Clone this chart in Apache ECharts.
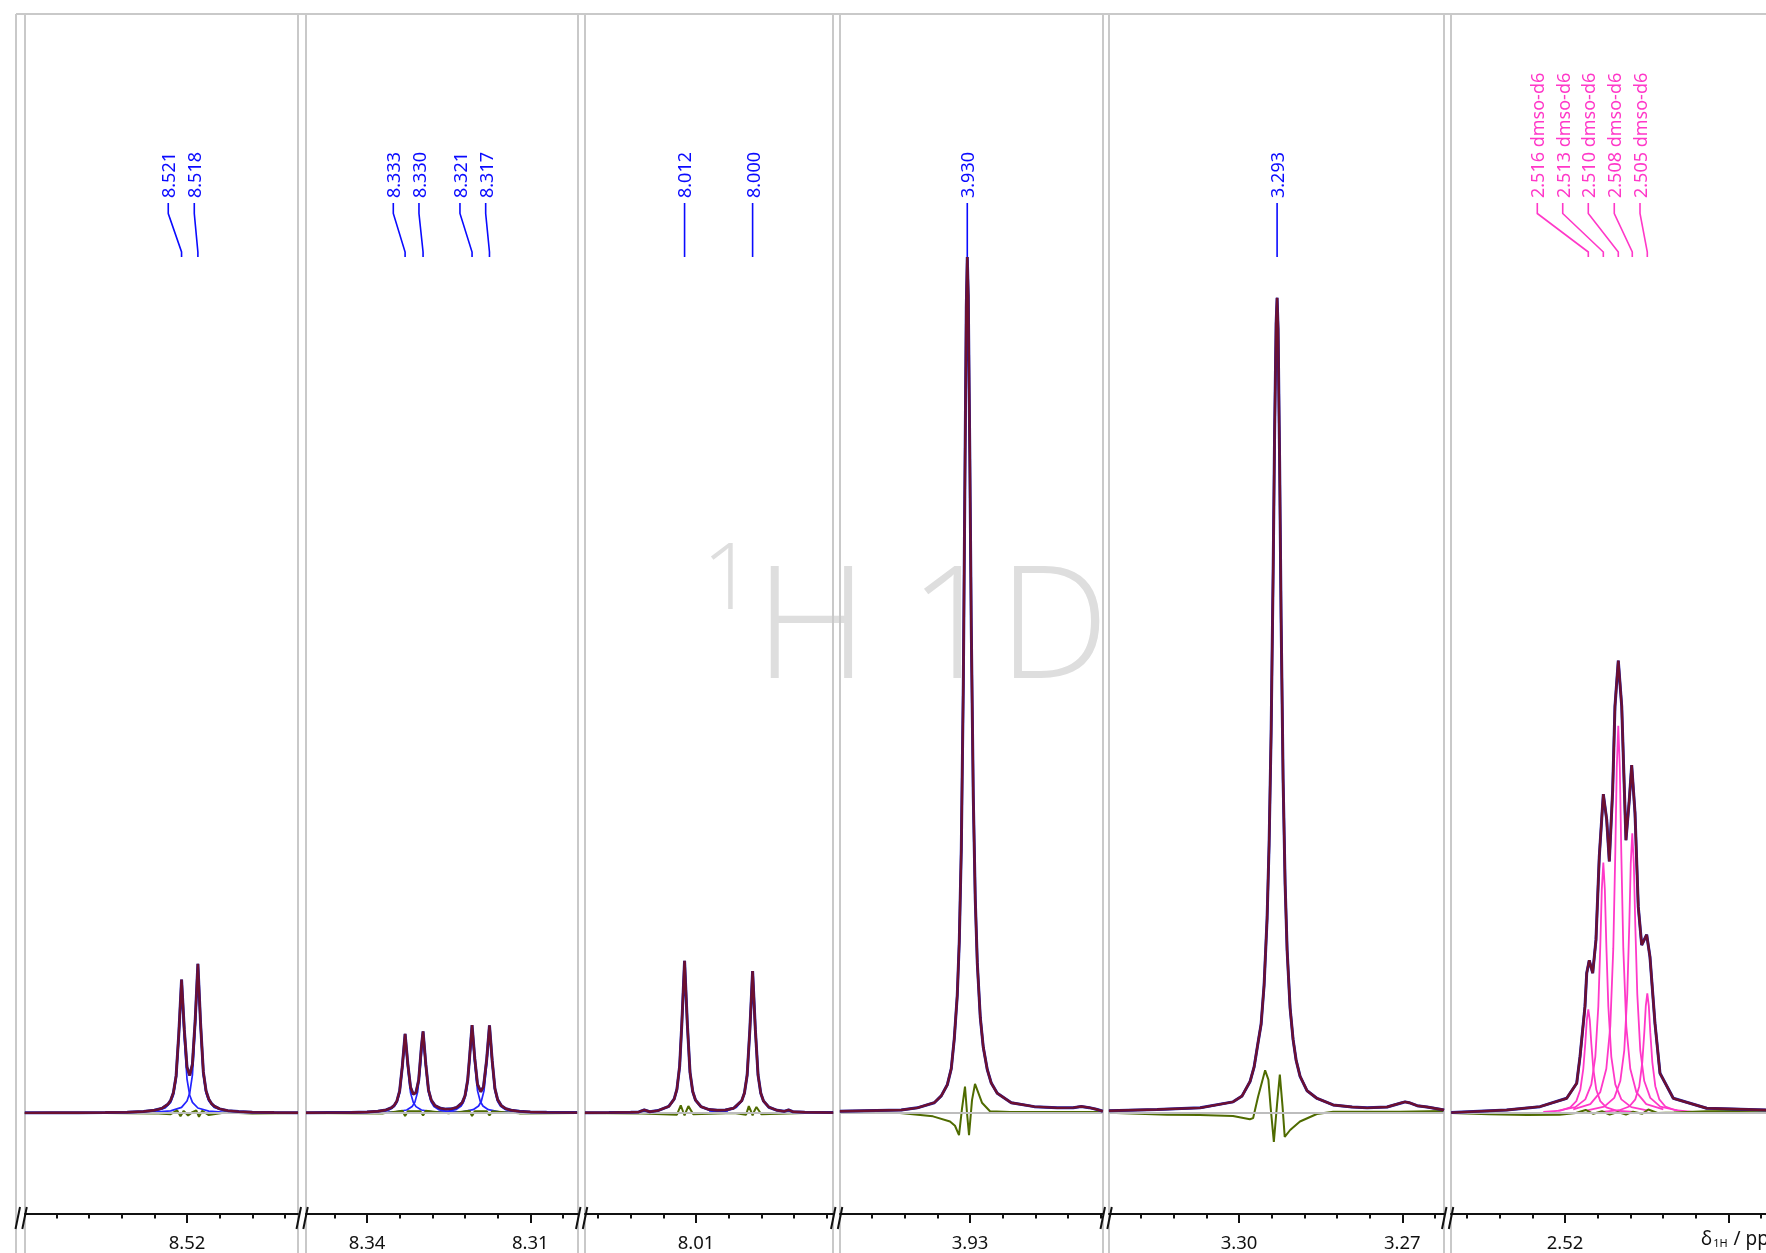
<!DOCTYPE html>
<html>
<head>
<meta charset="utf-8">
<title>1H 1D</title>
<script src="https://cdn.jsdelivr.net/npm/echarts@6.0.0/dist/echarts.min.js"></script>
<style>
html,body{margin:0;padding:0;background:#ffffff;overflow:hidden;}
#chart{width:1766px;height:1253px;}
</style>
</head>
<body>
<div id="chart"></div>
<script>
// ================= DATA (ppm, intensity) =================
// Panel 1 : 8.52 ppm doublet
const P1_FIT = [[8.5498,0.01],[8.545,0.02],[8.540,0.03],[8.535,0.05],[8.531,0.09],[8.528,0.17],[8.526,0.31],[8.5245,0.57],[8.5235,1.02],[8.523,1.48],[8.5225,2.37],[8.522,4.34],[8.5215,9.33],[8.521,15.65],[8.5205,9.77],[8.520,5.37],[8.5195,4.40],[8.519,5.72],[8.5185,10.79],[8.518,17.48],[8.5175,10.40],[8.517,4.81],[8.5165,2.59],[8.516,1.61],[8.5155,1.10],[8.515,0.80],[8.514,0.48],[8.5125,0.27],[8.5105,0.16],[8.508,0.09],[8.504,0.05],[8.4996,0.03]];
const P1_COMP_A = [[8.529,0.08],[8.526,0.21],[8.524,0.58],[8.523,1.24],[8.5225,2.07],[8.522,3.98],[8.5215,8.85],[8.521,15.0],[8.5205,8.85],[8.520,3.98],[8.5195,2.07],[8.519,1.24],[8.518,0.58],[8.516,0.21],[8.513,0.08]];
const P1_COMP_B = [[8.526,0.10],[8.523,0.24],[8.521,0.65],[8.520,1.40],[8.5195,2.33],[8.519,4.48],[8.5185,9.97],[8.518,16.9],[8.5175,9.97],[8.517,4.48],[8.5165,2.33],[8.516,1.40],[8.515,0.65],[8.513,0.24],[8.510,0.10]];
const P1_RES = [[8.5498,0],[8.535,0],[8.526,-0.05],[8.523,-0.15],[8.5218,0.3],[8.5212,-0.4],[8.5206,0.25],[8.5198,-0.3],[8.519,0.1],[8.5183,0.3],[8.5178,-0.45],[8.5172,0.25],[8.516,-0.25],[8.513,0.05],[8.508,-0.05],[8.4996,0]];

// Panel 2 : 8.33 / 8.32 ppm multiplet
const P2_FIT = [[8.3512,0.02],[8.347,0.04],[8.343,0.06],[8.340,0.11],[8.338,0.20],[8.3365,0.35],[8.3355,0.61],[8.335,0.88],[8.3345,1.41],[8.334,2.58],[8.3335,5.54],[8.333,9.28],[8.3325,5.73],[8.332,3.00],[8.3315,2.20],[8.331,2.41],[8.3305,3.85],[8.330,7.77],[8.3297,9.56],[8.3292,5.72],[8.3287,2.69],[8.3282,1.50],[8.3275,0.85],[8.3265,0.54],[8.3255,0.45],[8.3245,0.48],[8.3235,0.65],[8.3225,1.22],[8.322,2.00],[8.3215,3.85],[8.3212,6.16],[8.3207,10.30],[8.3202,6.36],[8.3197,3.36],[8.3191,2.49],[8.3186,3.06],[8.318,6.35],[8.3175,10.28],[8.317,6.13],[8.3165,2.86],[8.316,1.56],[8.3153,0.84],[8.3145,0.50],[8.3135,0.31],[8.312,0.19],[8.310,0.12],[8.307,0.07],[8.3014,0.04]];
const P2_COMP_C = [[8.3410,0.05],[8.3380,0.13],[8.3360,0.35],[8.3350,0.74],[8.3345,1.24],[8.3340,2.37],[8.3335,5.28],[8.3330,8.95],[8.3325,5.28],[8.3320,2.37],[8.3315,1.24],[8.3310,0.74],[8.3300,0.35],[8.3280,0.13],[8.3250,0.05]];
const P2_COMP_D = [[8.3377,0.05],[8.3347,0.13],[8.3327,0.35],[8.3317,0.76],[8.3312,1.27],[8.3307,2.44],[8.3302,5.43],[8.3297,9.2],[8.3292,5.43],[8.3287,2.44],[8.3282,1.27],[8.3277,0.76],[8.3267,0.35],[8.3247,0.13],[8.3217,0.05]];
const P2_COMP_E = [[8.3287,0.06],[8.3257,0.14],[8.3237,0.38],[8.3227,0.82],[8.3222,1.37],[8.3217,2.62],[8.3212,5.84],[8.3207,9.9],[8.3202,5.84],[8.3197,2.62],[8.3192,1.37],[8.3187,0.82],[8.3177,0.38],[8.3157,0.14],[8.3127,0.06]];
const P2_COMP_F = [[8.3255,0.06],[8.3225,0.14],[8.3205,0.38],[8.3195,0.82],[8.3190,1.37],[8.3185,2.62],[8.3180,5.84],[8.3175,9.9],[8.3170,5.84],[8.3165,2.62],[8.3160,1.37],[8.3155,0.82],[8.3145,0.38],[8.3125,0.14],[8.3095,0.06]];
const P2_RES = [[8.3512,0],[8.337,-0.05],[8.3335,0.25],[8.333,-0.35],[8.3325,0.2],[8.3302,0.2],[8.3297,-0.3],[8.3292,0.25],[8.325,-0.05],[8.3212,0.25],[8.3207,-0.35],[8.3202,0.2],[8.318,0.2],[8.3175,-0.3],[8.317,0.2],[8.312,-0.05],[8.3014,0]];

// Panel 3 : 8.01 / 8.00 ppm doublet
const P3_FIT = [[8.0304,0.03],[8.026,0.04],[8.022,0.08],[8.0205,0.12],[8.0195,0.35],[8.0185,0.14],[8.017,0.28],[8.015,0.76],[8.014,1.64],[8.0135,2.79],[8.013,5.51],[8.0126,10.53],[8.0121,17.84],[8.0116,10.54],[8.0111,4.76],[8.0106,2.51],[8.0101,1.52],[8.0091,0.75],[8.0076,0.40],[8.0061,0.32],[8.0046,0.35],[8.0031,0.55],[8.0016,1.43],[8.0011,2.34],[8.0006,4.45],[8.0001,9.83],[7.9996,16.64],[7.9991,9.83],[7.9986,4.44],[7.9981,2.32],[7.9976,1.40],[7.9966,0.67],[7.9951,0.31],[7.9938,0.19],[7.993,0.35],[7.9922,0.14],[7.990,0.08],[7.9848,0.04]];
const P3_COMP_G = [[8.0201,0.10],[8.0171,0.25],[8.0151,0.69],[8.0141,1.47],[8.0136,2.46],[8.0131,4.72],[8.0126,10.5],[8.0121,17.8],[8.0116,10.5],[8.0111,4.72],[8.0106,2.46],[8.0101,1.47],[8.0091,0.69],[8.0071,0.25],[8.0041,0.10]];
const P3_COMP_I = [[8.0076,0.09],[8.0046,0.24],[8.0026,0.64],[8.0016,1.37],[8.0011,2.29],[8.0006,4.40],[8.0001,9.79],[7.9996,16.6],[7.9991,9.79],[7.9986,4.40],[7.9981,2.29],[7.9976,1.37],[7.9966,0.64],[7.9946,0.24],[7.9916,0.09]];
const P3_RES = [[8.0304,0],[8.020,-0.05],[8.0135,-0.2],[8.0128,0.9],[8.0124,0.2],[8.0121,-0.3],[8.0118,0.2],[8.0114,0.8],[8.0105,-0.15],[8.003,0],[8.0008,-0.2],[8.0003,0.8],[7.9999,0.2],[7.9996,-0.3],[7.9993,0.2],[7.9989,0.7],[7.998,-0.15],[7.990,0],[7.9848,0]];

// Panel 4 : 3.930 ppm singlet
const P4_FIT = [[3.9539,0.2],[3.94262,0.35],[3.93969,0.6],[3.93656,1.2],[3.93528,2.0],[3.93417,3.3],[3.93344,5.2],[3.93289,8.7],[3.93234,13.8],[3.93197,20.1],[3.9316,30.9],[3.93123,50.2],[3.93096,72.2],[3.93068,94.5],[3.9305,100.4],[3.93032,95.9],[3.93004,77.5],[3.92977,57.2],[3.9294,37.2],[3.92903,25.0],[3.92866,17.6],[3.92811,11.2],[3.92756,7.7],[3.92683,5.1],[3.92609,3.5],[3.92499,2.3],[3.92242,1.2],[3.91819,0.74],[3.91397,0.6],[3.91103,0.62],[3.90956,0.75],[3.90809,0.62],[3.90662,0.4],[3.9056,0.2]];
const P4_RES = [[3.9539,0.1],[3.94286,0],[3.9368,-0.4],[3.93367,-1.0],[3.93276,-1.5],[3.93202,-2.6],[3.93147,0.5],[3.93092,3.1],[3.93055,0],[3.93018,-2.6],[3.92963,1.5],[3.92908,3.4],[3.9278,1.2],[3.92633,0.2],[3.92265,0.1],[3.9153,0.1],[3.9056,0.1]];

// Panel 5 : 3.293 ppm singlet
const P5_FIT = [[3.3239,0.25],[3.31504,0.4],[3.30714,0.6],[3.30108,1.3],[3.29943,2.0],[3.29796,3.7],[3.29722,5.4],[3.29649,8.3],[3.29594,10.4],[3.29539,15.0],[3.29484,22.8],[3.29447,31.5],[3.2941,44.5],[3.29373,63.3],[3.29346,79.7],[3.29318,92.6],[3.2930,95.6],[3.29282,92.0],[3.29254,76.5],[3.29227,58.3],[3.2919,39.2],[3.29153,26.9],[3.29116,19.1],[3.29061,12.3],[3.29006,8.6],[3.28951,6.2],[3.28878,4.3],[3.28749,2.6],[3.28565,1.7],[3.28271,0.94],[3.27922,0.7],[3.27647,0.6],[3.27279,0.7],[3.27004,1.2],[3.26949,1.3],[3.26875,1.2],[3.26728,0.85],[3.26545,0.7],[3.26232,0.35]];
const P5_RES = [[3.3239,0.03],[3.3132,-0.2],[3.3072,-0.23],[3.3011,-0.35],[3.2980,-0.74],[3.2974,-0.6],[3.2965,1.9],[3.2952,5.0],[3.2946,3.9],[3.2942,0.74],[3.2936,-3.4],[3.2930,1.1],[3.2925,4.5],[3.2920,0.74],[3.2916,-2.8],[3.2906,-2.0],[3.2888,-1.0],[3.2857,-0.12],[3.2827,0.15],[3.2704,0.15],[3.2625,0.23]];

// Panel 6 : dmso-d6 quintet
const P6_FIT = [[2.5409,0.04],[2.53071,0.35],[2.52459,0.74],[2.51969,1.72],[2.51785,3.48],[2.51724,6.6],[2.51633,12.5],[2.51601,16.4],[2.51554,17.9],[2.51491,16.4],[2.51431,20.3],[2.5137,30.1],[2.51296,37.4],[2.51234,34.4],[2.51186,29.5],[2.51124,37.9],[2.51082,47.7],[2.51021,53.05],[2.50958,47.7],[2.5088,32.0],[2.50819,36.7],[2.50775,40.8],[2.50714,35.2],[2.50654,24.2],[2.50591,19.7],[2.50499,20.9],[2.50439,18.3],[2.50347,10.5],[2.50255,4.66],[2.50011,1.72],[2.49397,0.55],[2.48308,0.35],[2.4768,0.3]];
const P6_DMSO_1 = [[2.52399,0.11],[2.52086,0.28],[2.51903,0.66],[2.51792,1.39],[2.51719,2.72],[2.51664,5.17],[2.51627,8.18],[2.516,10.85],[2.51572,12.16],[2.51544,10.85],[2.51517,8.18],[2.5148,5.17],[2.51425,2.72],[2.51352,1.39],[2.51241,0.66],[2.51058,0.28],[2.50745,0.11]];
const P6_DMSO_2 = [[2.52123,0.26],[2.5181,0.68],[2.51627,1.59],[2.51516,3.35],[2.51443,6.58],[2.51388,12.48],[2.51351,19.76],[2.51324,26.19],[2.51296,29.36],[2.51268,26.19],[2.51241,19.76],[2.51204,12.48],[2.51149,6.58],[2.51076,3.35],[2.50965,1.59],[2.50782,0.68],[2.50469,0.26]];
const P6_DMSO_3 = [[2.51848,0.41],[2.51535,1.04],[2.51352,2.45],[2.51241,5.18],[2.51168,10.17],[2.51113,19.3],[2.51076,30.55],[2.51049,40.5],[2.51021,45.4],[2.50993,40.5],[2.50966,30.55],[2.50929,19.3],[2.50874,10.17],[2.50801,5.18],[2.5069,2.45],[2.50507,1.04],[2.50194,0.41]];
const P6_DMSO_4 = [[2.51591,0.3],[2.51278,0.75],[2.51095,1.77],[2.50984,3.74],[2.50911,7.35],[2.50856,13.94],[2.50819,22.07],[2.50792,29.26],[2.50764,32.8],[2.50736,29.26],[2.50709,22.07],[2.50672,13.94],[2.50617,7.35],[2.50544,3.74],[2.50433,1.77],[2.5025,0.75],[2.49937,0.3]];
const P6_DMSO_5 = [[2.51315,0.13],[2.51002,0.32],[2.50819,0.76],[2.50708,1.6],[2.50635,3.14],[2.5058,5.97],[2.50543,9.45],[2.50516,12.52],[2.50488,14.04],[2.5046,12.52],[2.50433,9.45],[2.50396,5.97],[2.50341,3.14],[2.50268,1.6],[2.50157,0.76],[2.49974,0.32],[2.49661,0.13]];
const P6_RES = [[2.5409,0],[2.534,-0.15],[2.527,-0.25],[2.521,-0.2],[2.518,0],[2.5162,0.35],[2.5148,-0.1],[2.5132,0.2],[2.5118,-0.2],[2.5103,0.1],[2.5088,-0.2],[2.5075,0.15],[2.5058,-0.1],[2.5047,0.4],[2.503,0],[2.500,0.05],[2.494,0.2],[2.4768,0.3]];

// Peak annotations
const PEAK_LABELS = ['8.521','8.518','8.333','8.330','8.321','8.317','8.012','8.000','3.930','3.293'];
const PEAK_PPM    = [8.5210, 8.5180, 8.3330, 8.3297, 8.3207, 8.3175, 8.0121, 7.9996, 3.9305, 3.2930];
const PEAK_PANEL  = [0, 0, 1, 1, 1, 1, 2, 2, 3, 4];
const DMSO_LABELS = ['2.516 dmso-d6','2.513 dmso-d6','2.510 dmso-d6','2.508 dmso-d6','2.505 dmso-d6'];
const DMSO_PPM    = [2.51572, 2.51296, 2.51021, 2.50764, 2.50488];

// Axis ticks
const MAJOR_TICKS  = [[8.52],[8.34,8.31],[8.01],[3.93],[3.30,3.27],[2.52,2.49]];
const MAJOR_LABELS = [[8.52],[8.34,8.31],[8.01],[3.93],[3.30,3.27],[2.52]];
const MINOR_STEP = 0.006;

// ================= LAYOUT / STYLE =================
const GRID_TOP = 14, GRID_H = 1249, AXIS_Y = 1214;
const GRID_X = [[25,273],[306,272],[585,248],[840,263],[1109,335],[1451,349]];
const X_RANGES = [[8.499608,8.549762],[8.301237,8.351206],[7.984831,8.030392],[3.905566,3.953883],[3.262339,3.323883],[2.476828,2.540943]];
const Y_RANGE = [-17.6, 128.9];
const LABEL_DX = [-13.3,-3.6,-11.8,-4.1,-12.1,-3.8,0,0,0,0];
const DMSO_DX  = [-51,-40.6,-30,-18,-7.3];

const C_FRAME = '#c9c9c9', C_AXIS = '#111111';
const C_FIT = '#6d1030', C_SPEC = '#2020a8', C_COMP = '#2323ff', C_DMSO = '#ff38c8', C_RES = '#4f6b00', C_BASE = '#bdbdbd';
const C_LABEL = '#0a0aff';
const FONT = 'Noto Sans';

const PANELS = [
  {fit:P1_FIT, comps:[P1_COMP_A,P1_COMP_B], compColor:C_COMP, res:P1_RES},
  {fit:P2_FIT, comps:[P2_COMP_C,P2_COMP_D,P2_COMP_E,P2_COMP_F], compColor:C_COMP, res:P2_RES},
  {fit:P3_FIT, comps:[P3_COMP_G,P3_COMP_I], compColor:C_COMP, res:P3_RES},
  {fit:P4_FIT, comps:[P4_FIT], compColor:C_COMP, res:P4_RES},
  {fit:P5_FIT, comps:[P5_FIT], compColor:C_COMP, res:P5_RES},
  {fit:P6_FIT, comps:[P6_DMSO_1,P6_DMSO_2,P6_DMSO_3,P6_DMSO_4,P6_DMSO_5], compColor:C_DMSO, res:P6_RES}
];

function minorTicks(range){
  const out=[];
  const k0=Math.ceil(range[0]/MINOR_STEP-1e-9), k1=Math.floor(range[1]/MINOR_STEP+1e-9);
  for(let k=k0;k<=k1;k++) out.push(Math.round(k*MINOR_STEP*1000)/1000);
  return out;
}

const grids=[], xAxes=[], yAxes=[], series=[];
PANELS.forEach((p,i)=>{
  grids.push({left:GRID_X[i][0], width:GRID_X[i][1], top:GRID_TOP, height:GRID_H,
    show:true, borderColor:C_FRAME, borderWidth:2, backgroundColor:'transparent',
    containLabel:false, outerBoundsMode:'none'});
  const off = AXIS_Y - (GRID_TOP + GRID_H);
  xAxes.push({type:'value', gridIndex:i, min:X_RANGES[i][0], max:X_RANGES[i][1], inverse:true,
    position:'bottom', offset:off, scale:true,
    axisLine:{show:true, onZero:false, lineStyle:{color:C_AXIS, width:2}},
    axisTick:{show:true, inside:false, length:4.5, customValues:minorTicks(X_RANGES[i]), lineStyle:{color:C_AXIS, width:2}},
    axisLabel:{show:false}, splitLine:{show:false}, minorTick:{show:false}});
  xAxes.push({type:'value', gridIndex:i, min:X_RANGES[i][0], max:X_RANGES[i][1], inverse:true,
    position:'bottom', offset:off, scale:true,
    axisLine:{show:false, onZero:false},
    axisTick:{show:true, inside:false, length:9, customValues:MAJOR_TICKS[i], lineStyle:{color:C_AXIS, width:2}},
    axisLabel:{show:true, customValues:MAJOR_LABELS[i], margin:20, fontSize:18.5, fontFamily:FONT, color:'#111111',
      formatter:(v)=>Number(v).toFixed(2)},
    splitLine:{show:false}});
  yAxes.push({type:'value', gridIndex:i, min:Y_RANGE[0], max:Y_RANGE[1], show:false, splitLine:{show:false}});
  const xi = i*2;
  series.push({type:'line', name:'baseline', xAxisIndex:xi, yAxisIndex:i, data:[], z:1, silent:true,
    markLine:{silent:true, symbol:'none', label:{show:false}, lineStyle:{color:C_BASE, width:2, type:'solid'}, data:[{yAxis:0}], animation:false}});
  p.comps.forEach(c=>{
    series.push({type:'line', name:'component', xAxisIndex:xi, yAxisIndex:i, data:c, showSymbol:false, symbol:'none',
      lineStyle:{color:p.compColor, width:(p.compColor===C_DMSO?1.8:1.7)}, z:3, silent:true});
  });
  series.push({type:'line', name:'residual', xAxisIndex:xi, yAxisIndex:i, data:p.res, showSymbol:false, symbol:'none',
    lineStyle:{color:C_RES, width:2}, z:4, silent:true});
  series.push({type:'line', name:'spectrum', xAxisIndex:xi, yAxisIndex:i, data:p.fit, showSymbol:false, symbol:'none',
    lineStyle:{color:C_SPEC, width:3.0}, z:5, silent:true});
  series.push({type:'line', name:'fit', xAxisIndex:xi, yAxisIndex:i, data:p.fit, showSymbol:false, symbol:'none',
    lineStyle:{color:C_FIT, width:2.4}, z:6, silent:true});
});

const chart = echarts.init(document.getElementById('chart'), null, {renderer:'canvas', width:1766, height:1253});
chart.setOption({
  animation:false,
  backgroundColor:'#ffffff',
  grid:grids, xAxis:xAxes, yAxis:yAxes, series:series
});

// ---------- decorations ----------
const els = [];
// watermark
els.push({type:'text', silent:true, z:-10, x:702, y:583, style:{text:'1', fill:'#dedede', fontSize:92, fontFamily:'Open Sans', fontWeight:300, align:'left', verticalAlign:'middle'}});
els.push({type:'text', silent:true, z:-10, x:755, y:633, style:{text:'H 1D', fill:'#dedede', fontSize:157, fontFamily:'Open Sans', fontWeight:300, align:'left', verticalAlign:'middle'}});
// outer frame
els.push({type:'line', silent:true, z:1, shape:{x1:16, y1:14, x2:16, y2:1253}, style:{stroke:C_FRAME, lineWidth:2}});
els.push({type:'line', silent:true, z:1, shape:{x1:16, y1:14, x2:1766, y2:14}, style:{stroke:C_FRAME, lineWidth:2}});
// axis breaks
GRID_X.forEach((g,i)=>{
  const xc = i===0 ? g[0]-4 : (GRID_X[i-1][0]+GRID_X[i-1][1]+g[0])/2;
  els.push({type:'line', silent:true, z:20, shape:{x1:xc-5.5, y1:AXIS_Y+15, x2:xc-1, y2:AXIS_Y-7}, style:{stroke:C_AXIS, lineWidth:2}});
  els.push({type:'line', silent:true, z:20, shape:{x1:xc+1.3, y1:AXIS_Y+15, x2:xc+5.8, y2:AXIS_Y-7}, style:{stroke:C_AXIS, lineWidth:2}});
});
// axis name
els.push({type:'text', silent:true, z:20, x:1701, y:1238, style:{
  text:'{d|δ}{s|1H}{d| / ppm}', fill:'#111111', align:'left', verticalAlign:'middle',
  rich:{d:{fontSize:19, fontFamily:FONT, fill:'#111111', lineHeight:22, verticalAlign:'bottom'},
        s:{fontSize:11, fontFamily:FONT, fill:'#111111', lineHeight:22, verticalAlign:'bottom', padding:[0,1,0,1]}}}});
// peak labels with leaders
function addLabel(panel, ppm, text, dx, color){
  const xp = chart.convertToPixel({xAxisIndex:panel*2}, ppm);
  const xt = xp + dx;
  els.push({type:'polyline', silent:true, z:30, shape:{points:[[xt,203],[xt,213.5],[xp,252],[xp,257]]},
    style:{stroke:color, lineWidth:1.6, fill:null}});
  els.push({type:'text', silent:true, z:30, x:xt+1.8, y:198, rotation:Math.PI/2,
    style:{text:text, fill:color, fontSize:18, fontFamily:FONT, align:'left', verticalAlign:'middle'}});
}
PEAK_LABELS.forEach((t,k)=>addLabel(PEAK_PANEL[k], PEAK_PPM[k], t, LABEL_DX[k], C_LABEL));
DMSO_LABELS.forEach((t,k)=>addLabel(5, DMSO_PPM[k], t, DMSO_DX[k], C_DMSO));

chart.setOption({graphic:{elements:els}});
</script>
</body>
</html>
